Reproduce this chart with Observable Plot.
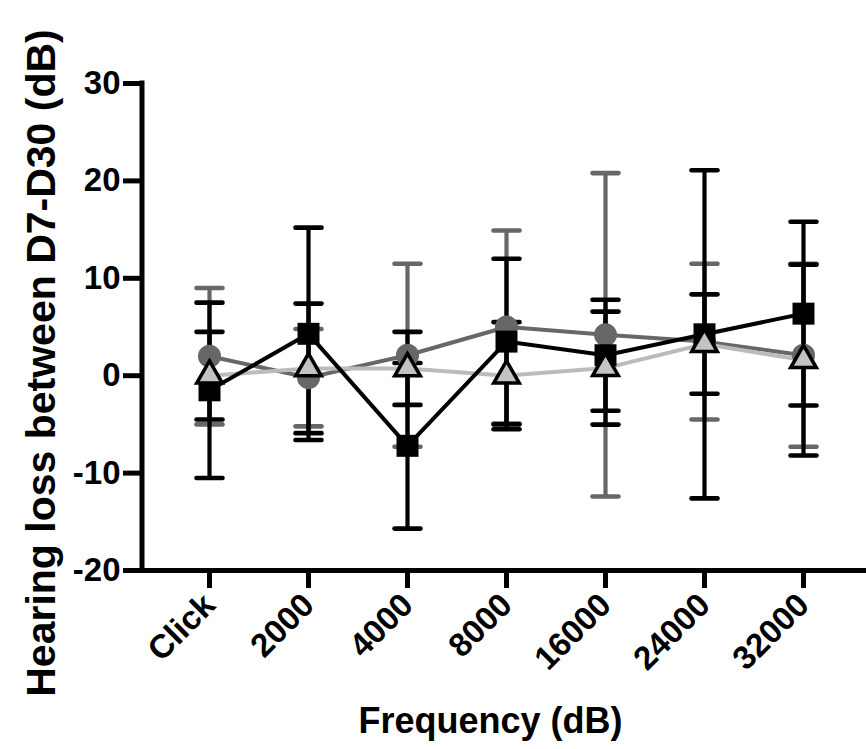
<!DOCTYPE html>
<html><head><meta charset="utf-8">
<script src="https://cdn.jsdelivr.net/npm/d3@7"></script>
<script src="https://cdn.jsdelivr.net/npm/@observablehq/plot@0.6"></script>
<style>body{margin:0;background:#fff}</style>
</head><body><div id="chart"></div>
<script>
const categories = ["Click","2000","4000","8000","16000","24000","32000"];
const yTicks = [-20,-10,0,10,20,30];
// dark grey circles
const circleMean = [2.0, -0.2, 2.1, 5.0, 4.2, 3.5, 2.1];
const circleErr  = [7.0, 5.0, 9.4, 9.9, 16.6, 8.0, 9.4];
// black squares
const squareMean = [-1.5, 4.3, -7.2, 3.5, 2.1, 4.25, 6.37];
const squareErr  = [9.0, 10.9, 8.5, 8.5, 5.7, 16.85, 9.43];
// light grey triangles
const triMean = [0.0, 0.75, 0.75, 0.0, 0.78, 3.25, 1.6];
const triErr  = [4.5, 6.65, 3.75, 5.5, 5.8, 5.1, 9.8];

const rows = (mean, err) => categories.map((c, i) => ({cat: c, mean: mean[i], lo: mean[i] - err[i], hi: mean[i] + err[i]}));
const circles = rows(circleMean, circleErr);
const squares = rows(squareMean, squareErr);
const tris = rows(triMean, triErr);

const capSymbol = {draw(ctx) { ctx.moveTo(-13, 0); ctx.lineTo(13, 0); }};
const errMarks = (d, color) => [
  Plot.ruleX(d, {x: "cat", y1: "lo", y2: "hi", stroke: color, strokeWidth: 4.2}),
  Plot.dot(d, {x: "cat", y: "lo", symbol: capSymbol, fill: "none", stroke: color, strokeWidth: 4.6, strokeLinecap: "round"}),
  Plot.dot(d, {x: "cat", y: "hi", symbol: capSymbol, fill: "none", stroke: color, strokeWidth: 4.6, strokeLinecap: "round"})
];

const cGrey = "#676767", cLight = "#b9bcbc", cTriFill = "#c2c4c4";
const font = "Liberation Sans, Arial, Helvetica, sans-serif";

const leftLine = (index, scales, values, dims) => {
  const l = document.createElementNS("http://www.w3.org/2000/svg", "line");
  const x = dims.marginLeft;
  l.setAttribute("x1", x); l.setAttribute("x2", x);
  l.setAttribute("y1", scales.y(30)); l.setAttribute("y2", scales.y(-20));
  l.setAttribute("stroke", "#000"); l.setAttribute("stroke-width", 5);
  l.setAttribute("stroke-linecap", "square");
  return l;
};

const chart = Plot.plot({
  width: 866, height: 749,
  marginLeft: 142, marginRight: 0, marginTop: 83, marginBottom: 179,
  style: {fontFamily: font, background: "#fff", overflow: "visible"},
  x: {type: "point", domain: categories, range: [207, 805], padding: 0},
  y: {domain: [-20, 30]},
  marks: [
    Plot.axisY({ticks: yTicks, tickSize: 19, tickPadding: 3, fontSize: 33, fontWeight: "bold", strokeWidth: 5, label: null, tickFormat: d => String(d)}),
    Plot.axisX({tickSize: 18, tickPadding: 11, tickRotate: -45, fontSize: 33, fontWeight: "bold", strokeWidth: 5, label: null}),
    Plot.ruleY([-20], {stroke: "#000", strokeWidth: 5}),
    leftLine,
    ...errMarks(circles, cGrey),
    ...errMarks(tris, "#000"),
    ...errMarks(squares, "#000"),
    Plot.line(circles, {x: "cat", y: "mean", stroke: cGrey, strokeWidth: 4}),
    Plot.line(tris, {x: "cat", y: "mean", stroke: cLight, strokeWidth: 4}),
    Plot.line(squares, {x: "cat", y: "mean", stroke: "#000", strokeWidth: 4}),
    Plot.dot(circles, {x: "cat", y: "mean", r: 11.5, fill: cGrey, stroke: "none"}),
    Plot.dot(squares, {x: "cat", y: "mean", r: 12.4, symbol: "square", fill: "#000", stroke: "none"}),
    Plot.dot(tris, {x: "cat", y: "mean", r: 9.5, symbol: "triangle", fill: cTriFill, stroke: "#000", strokeWidth: 3.5, strokeLinejoin: "miter"}),
    Plot.text(["Frequency (dB)"], {frameAnchor: "bottom", dx: -14, dy: 162, fontSize: 36, fontWeight: "bold", fill: "#000", lineAnchor: "bottom"}),
    Plot.text(["Hearing loss between D7-D30 (dB)"], {frameAnchor: "left", dx: -101, dy: 36, rotate: -90, fontSize: 41, fontWeight: "bold", fill: "#000", textAnchor: "middle", lineAnchor: "middle"})
  ]
});
document.getElementById("chart").appendChild(chart);
</script>
</body></html>
